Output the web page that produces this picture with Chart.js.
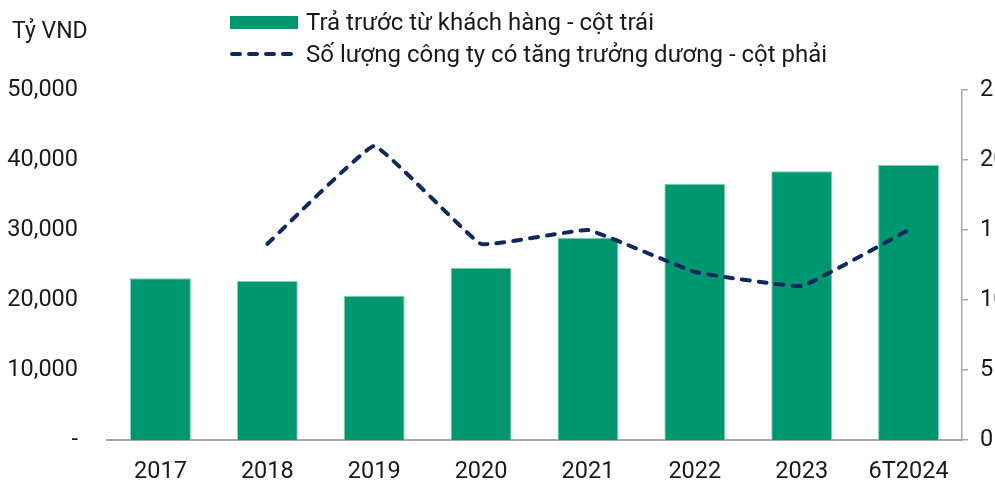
<!DOCTYPE html>
<html lang="vi">
  <head>
    <meta charset="UTF-8" />
    <title>Trả trước từ khách hàng</title>
    <script src="https://cdn.jsdelivr.net/npm/chart.js"></script>
    <style>
      html, body { margin: 0; padding: 0; background: #fff; overflow: hidden; }
      body { width: 995px; height: 483px; position: relative; font-family: Roboto, sans-serif; color: #1a1a1a; }
      .wrap { position: absolute; left: 0; top: 0; width: 1010px; height: 483px; }
      .unit { position: absolute; left: 12px; top: 17px; font-size: 23px; }
      .legend { position: absolute; left: 230px; top: 6px; font-size: 24px; }
      .legend .row { display: flex; align-items: center; height: 32px; }
      .legend .swatch { width: 68px; height: 13px; margin-right: 8px; }
      .legend svg { margin-right: 6px; }
    </style>
  </head>
  <body>
    <div class="wrap"><canvas id="chart" width="1010" height="483"></canvas></div>
    <div class="unit">Tỷ VND</div>
    <div class="legend" id="legend"></div>

    <script>
      // dữ liệu
      const categories = ["2017", "2018", "2019", "2020", "2021", "2022", "2023", "6T2024"];
      const prepayments = [23100, 22700, 20600, 24600, 28900, 36600, 38400, 39300];
      const positiveGrowthCount = [null, 14, 21, 14, 15, 12, 11, 15];
      const leftTicks = [0, 10000, 20000, 30000, 40000, 50000];
      const rightTicks = [0, 5, 10, 15, 20, 25];

      const barLabel = "Trả trước từ khách hàng - cột trái";
      const lineLabel = "Số lượng công ty có tăng trưởng dương - cột phải";
      const green = "#00966f";
      const navy = "#0e2a5c";
      const axisGray = "#a6a6a6";
      const font = { family: "Roboto", size: 23.5 };

      // legend HTML
      document.getElementById("legend").innerHTML = `
        <div class="row"><div class="swatch" style="background:${green}"></div><span>${barLabel}</span></div>
        <div class="row"><svg width="70" height="10"><line x1="2" y1="5" x2="68" y2="5" stroke="${navy}" stroke-width="4" stroke-dasharray="8 9" stroke-linecap="round"/></svg><span>${lineLabel}</span></div>
      `;

      const ctx = document.getElementById("chart").getContext("2d");
      new Chart(ctx, {
        data: {
          labels: categories,
          datasets: [
            {
              type: "line",
              label: lineLabel,
              data: positiveGrowthCount,
              yAxisID: "y1",
              borderColor: navy,
              borderWidth: 4,
              borderDash: [8, 9],
              borderCapStyle: "round",
              pointRadius: 0,
              tension: 0.08,
              spanGaps: false,
              order: 0,
            },
            {
              type: "bar",
              label: barLabel,
              data: prepayments,
              yAxisID: "y",
              backgroundColor: green,
              borderColor: "#7fd0b5",
              borderWidth: 1,
              categoryPercentage: 1,
              barPercentage: 0.57,
              order: 1,
            },
          ],
        },
        options: {
          responsive: false,
          animation: false,
          layout: { padding: { top: 90, bottom: 0, left: 0, right: 0 } },
          plugins: { legend: { display: false }, tooltip: { enabled: false } },
          scales: {
            x: {
              grid: { display: false },
              border: { display: true, color: axisGray, width: 2 },
              ticks: { font, color: "#1a1a1a", padding: 10 },
              afterFit: (s) => { s.height = 43; },
            },
            y: {
              position: "left",
              min: 0,
              max: 50000,
              afterBuildTicks: (s) => { s.ticks = leftTicks.map((v) => ({ value: v })); },
              grid: { display: false, drawTicks: false },
              border: { display: false },
              ticks: {
                font,
                color: "#1a1a1a",
                padding: 29,
                callback: (v) => (v === 0 ? "-" : v.toLocaleString("en-US")),
              },
              afterFit: (s) => { s.width = 107; },
            },
            y1: {
              position: "right",
              min: 0,
              max: 25,
              afterBuildTicks: (s) => { s.ticks = rightTicks.map((v) => ({ value: v })); },
              grid: { drawOnChartArea: false, drawTicks: true, tickLength: 6, color: axisGray, lineWidth: 1.5 },
              border: { display: true, color: axisGray, width: 1.5 },
              ticks: { font, color: "#1a1a1a", padding: 12 },
              afterFit: (s) => { s.width = 48; },
            },
          },
        },
      });
    </script>
  </body>
</html>
